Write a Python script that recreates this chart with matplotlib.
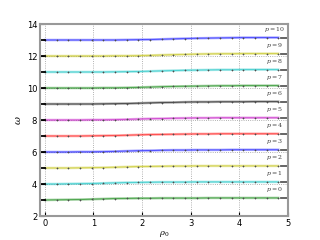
import numpy as np
import matplotlib
matplotlib.use("Agg")
import matplotlib.pyplot as plt

# radial positions of the sampled points
rho = [0.0, 0.24, 0.48, 0.72, 0.96, 1.2, 1.44, 1.68, 1.92, 2.16, 2.4,
       2.64, 2.88, 3.12, 3.36, 3.6, 3.84, 4.08, 4.32, 4.56, 4.8]

# eigenfrequencies for each mode p
omega_p0 = [3.00, 3.01, 3.02, 3.03, 3.05, 3.07, 3.09, 3.10, 3.11, 3.11, 3.12,
            3.12, 3.12, 3.12, 3.13, 3.13, 3.13, 3.13, 3.13, 3.13, 3.13]
omega_p1 = [4.00, 4.00, 4.01, 4.02, 4.03, 4.05, 4.07, 4.09, 4.10, 4.11, 4.12,
            4.12, 4.12, 4.13, 4.13, 4.13, 4.13, 4.13, 4.13, 4.13, 4.13]
omega_p2 = [5.00, 5.00, 5.00, 5.01, 5.02, 5.03, 5.05, 5.07, 5.09, 5.10, 5.11,
            5.12, 5.12, 5.13, 5.13, 5.13, 5.13, 5.13, 5.13, 5.13, 5.13]
omega_p3 = [6.00, 6.00, 6.00, 6.01, 6.01, 6.02, 6.04, 6.06, 6.08, 6.09, 6.11,
            6.12, 6.12, 6.13, 6.13, 6.13, 6.14, 6.14, 6.14, 6.14, 6.14]
omega_p4 = [7.00, 7.00, 7.00, 7.00, 7.01, 7.02, 7.03, 7.05, 7.07, 7.09, 7.10,
            7.11, 7.12, 7.13, 7.13, 7.14, 7.14, 7.14, 7.14, 7.14, 7.14]
omega_p5 = [8.00, 8.00, 8.00, 8.00, 8.01, 8.01, 8.02, 8.04, 8.06, 8.08, 8.09,
            8.11, 8.12, 8.13, 8.13, 8.14, 8.14, 8.14, 8.14, 8.14, 8.14]
omega_p6 = [9.00, 9.00, 9.00, 9.00, 9.00, 9.01, 9.02, 9.03, 9.05, 9.07, 9.09,
            9.10, 9.12, 9.13, 9.13, 9.14, 9.14, 9.14, 9.15, 9.15, 9.15]
omega_p7 = [10.00, 10.00, 10.00, 10.00, 10.00, 10.01, 10.01, 10.02, 10.04, 10.06, 10.08,
            10.10, 10.11, 10.12, 10.13, 10.14, 10.14, 10.15, 10.15, 10.15, 10.15]
omega_p8 = [11.00, 11.00, 11.00, 11.00, 11.00, 11.00, 11.01, 11.02, 11.03, 11.05, 11.07,
            11.09, 11.11, 11.12, 11.13, 11.14, 11.14, 11.15, 11.15, 11.15, 11.15]
omega_p9 = [12.00, 12.00, 12.00, 12.00, 12.00, 12.00, 12.01, 12.01, 12.02, 12.04, 12.06,
            12.08, 12.10, 12.12, 12.13, 12.14, 12.14, 12.15, 12.15, 12.15, 12.15]
omega_p10 = [13.00, 13.00, 13.00, 13.00, 13.00, 13.00, 13.00, 13.01, 13.02, 13.03, 13.05,
             13.07, 13.09, 13.11, 13.12, 13.13, 13.14, 13.15, 13.15, 13.15, 13.15]

omegas = [omega_p0, omega_p1, omega_p2, omega_p3, omega_p4, omega_p5,
          omega_p6, omega_p7, omega_p8, omega_p9, omega_p10]
labels = [r'$p=%d$' % p for p in range(11)]
colors = ['g', 'c', 'y', 'b', 'r', 'm', 'k', 'g', 'c', 'y', 'b']

plt.rcParams['mathtext.fontset'] = 'dejavuserif'

fig = plt.figure(figsize=(3.2, 2.4), dpi=100)
ax = fig.add_axes([0.125, 0.1, 0.775, 0.8])

for om, col, lab in zip(omegas, colors, labels):
    ax.plot(rho, om, color=col, lw=1.8, alpha=0.35)
    ax.plot(rho, om, color=col, lw=0.6, alpha=0.6)
    ax.plot(rho, om, ls='none', marker='+', ms=2.0, mew=0.5, color='0.3')
    # short end pieces
    ax.plot([-0.1, 0.0], [om[0], om[0]], color='k', lw=1.3)
    ax.plot([4.85, 5.0], [om[-1], om[-1]], color='0.35', lw=1.3)
    ax.text(4.72, om[-1] + 0.25, lab, fontsize=4.5, ha='center', va='bottom',
            color='0.25')

ax.set_xlim(-0.1, 5)
ax.set_ylim(2, 14)
ax.set_xticks([0, 1, 2, 3, 4, 5])
ax.set_yticks([2, 4, 6, 8, 10, 12, 14])
ax.grid(True, ls=':', color='0.6', lw=0.6)
ax.tick_params(labelsize=6, length=3, width=0.8, pad=2, colors='k',
               direction='in')
for s in ax.spines.values():
    s.set_color('0.6')
    s.set_linewidth(1.5)

ax.set_xlabel(r'$\rho_0$', fontsize=6, labelpad=1)
ax.set_ylabel(r'$\omega$', fontsize=7, labelpad=3)

fig.savefig('out.png', dpi=100)
